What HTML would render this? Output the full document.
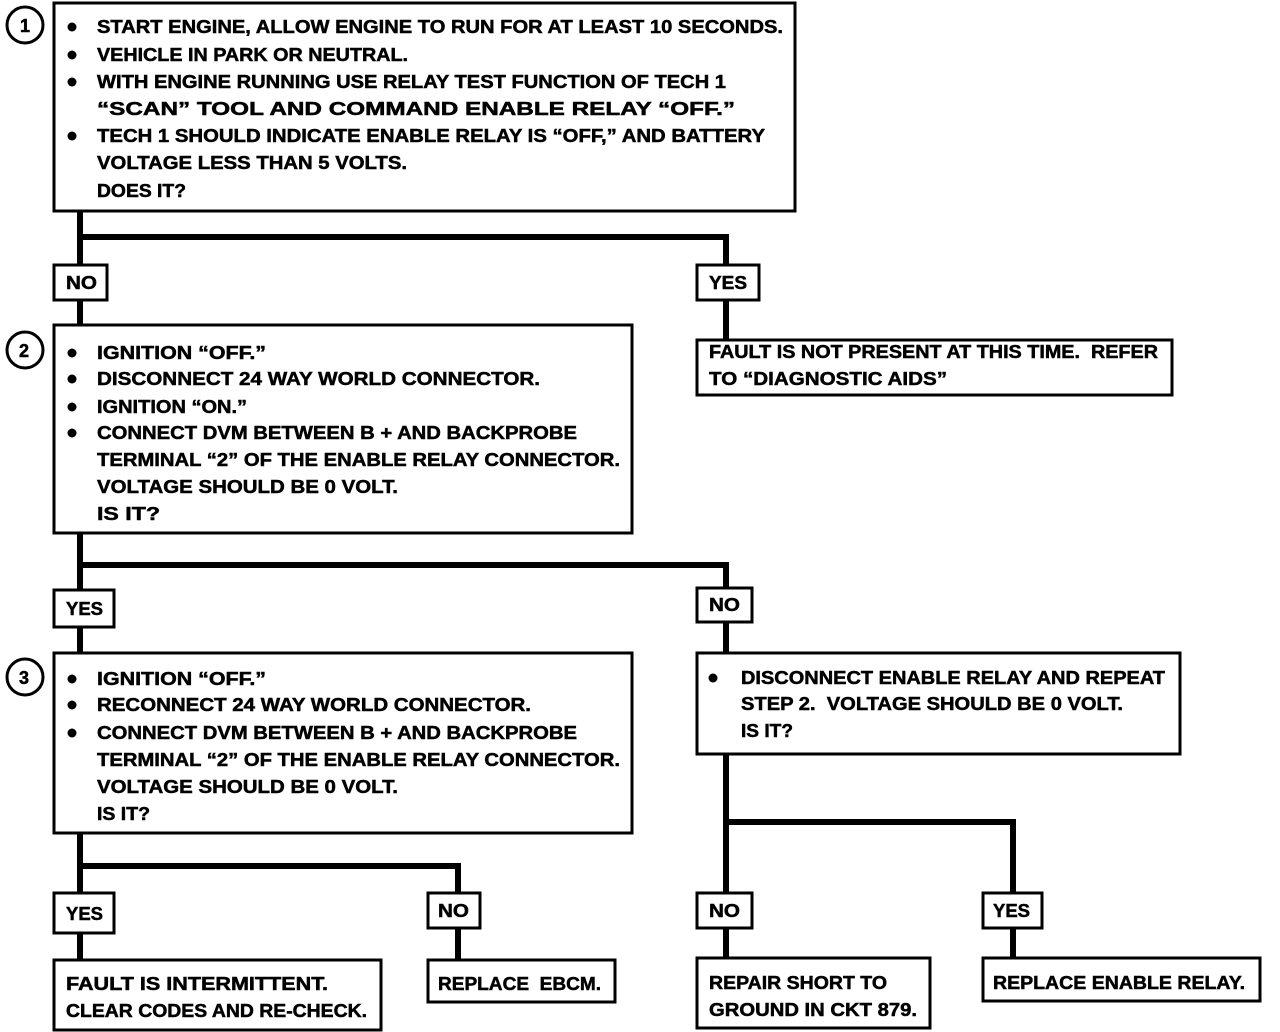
<!DOCTYPE html>
<html><head><meta charset="utf-8"><style>
html,body{margin:0;padding:0;background:#fff;width:1280px;height:1032px;overflow:hidden}
svg text{font-family:"Liberation Sans",sans-serif;font-weight:bold;font-size:18px;fill:#000;stroke:#000;stroke-width:0.5;white-space:pre}
</style></head><body>
<svg width="1280" height="1032" xmlns="http://www.w3.org/2000/svg">
<g fill="none" stroke="#000">
<g stroke-width="6">
<path d="M80 211V325M80 237H726V340"/>
<path d="M80 533V653M80 565H726V653"/>
<path d="M80 833V960M80 866H458V960"/>
<path d="M726 754V958M726 822H1013V958"/>
</g>
<g stroke-width="3" fill="#fff">
<rect x="54" y="3" width="741" height="208"/>
<rect x="54" y="325" width="578" height="208"/>
<rect x="54" y="653" width="578" height="180"/>
<rect x="697" y="340" width="475" height="55"/>
<rect x="697" y="653" width="483" height="101"/>
<rect x="54" y="960" width="327" height="70"/>
<rect x="428" y="960" width="187" height="42"/>
<rect x="697" y="958" width="233" height="70"/>
<rect x="983" y="958" width="277" height="43"/>
<rect x="54" y="265" width="53" height="35"/>
<rect x="697" y="265" width="62" height="35"/>
<rect x="54" y="590" width="60" height="37"/>
<rect x="697" y="588" width="55" height="34"/>
<rect x="54" y="893" width="60" height="40"/>
<rect x="428" y="893" width="52" height="35"/>
<rect x="697" y="893" width="55" height="35"/>
<rect x="983" y="893" width="59" height="35"/>
<circle cx="25" cy="25" r="18"/>
<circle cx="25" cy="350" r="18"/>
<circle cx="25" cy="677" r="18"/>
</g>
</g>
<g fill="#000">
<circle cx="72" cy="27" r="4.5"/><circle cx="72" cy="55" r="4.5"/><circle cx="72" cy="82" r="4.5"/><circle cx="72" cy="136" r="4.5"/>
<circle cx="72" cy="353" r="4.5"/><circle cx="72" cy="379" r="4.5"/><circle cx="72" cy="407" r="4.5"/><circle cx="72" cy="433" r="4.5"/>
<circle cx="72" cy="679" r="4.5"/><circle cx="72" cy="705" r="4.5"/><circle cx="72" cy="733" r="4.5"/>
<circle cx="713" cy="678" r="4.5"/>
</g>
<text x="20" y="32">1</text><text x="19" y="357">2</text><text x="19" y="684">3</text>
<text x="97" y="33" textLength="686" lengthAdjust="spacingAndGlyphs">START ENGINE, ALLOW ENGINE TO RUN FOR AT LEAST 10 SECONDS.</text>
<text x="97" y="61" textLength="311" lengthAdjust="spacingAndGlyphs">VEHICLE IN PARK OR NEUTRAL.</text>
<text x="97" y="88" textLength="629" lengthAdjust="spacingAndGlyphs">WITH ENGINE RUNNING USE RELAY TEST FUNCTION OF TECH 1</text>
<text x="97" y="115" textLength="638" lengthAdjust="spacingAndGlyphs">“SCAN” TOOL AND COMMAND ENABLE RELAY “OFF.”</text>
<text x="97" y="142" textLength="668" lengthAdjust="spacingAndGlyphs">TECH 1 SHOULD INDICATE ENABLE RELAY IS “OFF,” AND BATTERY</text>
<text x="97" y="169" textLength="310" lengthAdjust="spacingAndGlyphs">VOLTAGE LESS THAN 5 VOLTS.</text>
<text x="97" y="197" textLength="89" lengthAdjust="spacingAndGlyphs">DOES IT?</text>

<text x="97" y="359" textLength="169" lengthAdjust="spacingAndGlyphs">IGNITION “OFF.”</text>
<text x="97" y="385" textLength="443" lengthAdjust="spacingAndGlyphs">DISCONNECT 24 WAY WORLD CONNECTOR.</text>
<text x="97" y="413" textLength="150" lengthAdjust="spacingAndGlyphs">IGNITION “ON.”</text>
<text x="97" y="439" textLength="480" lengthAdjust="spacingAndGlyphs">CONNECT DVM BETWEEN B + AND BACKPROBE</text>
<text x="97" y="466" textLength="523" lengthAdjust="spacingAndGlyphs">TERMINAL “2” OF THE ENABLE RELAY CONNECTOR.</text>
<text x="97" y="493" textLength="301" lengthAdjust="spacingAndGlyphs">VOLTAGE SHOULD BE 0 VOLT.</text>
<text x="97" y="520" textLength="63" lengthAdjust="spacingAndGlyphs">IS IT?</text>

<text x="97" y="685" textLength="169" lengthAdjust="spacingAndGlyphs">IGNITION “OFF.”</text>
<text x="97" y="711" textLength="434" lengthAdjust="spacingAndGlyphs">RECONNECT 24 WAY WORLD CONNECTOR.</text>
<text x="97" y="739" textLength="480" lengthAdjust="spacingAndGlyphs">CONNECT DVM BETWEEN B + AND BACKPROBE</text>
<text x="97" y="766" textLength="523" lengthAdjust="spacingAndGlyphs">TERMINAL “2” OF THE ENABLE RELAY CONNECTOR.</text>
<text x="97" y="793" textLength="301" lengthAdjust="spacingAndGlyphs">VOLTAGE SHOULD BE 0 VOLT.</text>
<text x="97" y="820" textLength="53" lengthAdjust="spacingAndGlyphs">IS IT?</text>

<text x="709" y="358" textLength="449" lengthAdjust="spacingAndGlyphs">FAULT IS NOT PRESENT AT THIS TIME.&#160; REFER</text>
<text x="709" y="385" textLength="238" lengthAdjust="spacingAndGlyphs">TO “DIAGNOSTIC AIDS”</text>

<text x="741" y="684" textLength="424" lengthAdjust="spacingAndGlyphs">DISCONNECT ENABLE RELAY AND REPEAT</text>
<text x="741" y="710" textLength="382" lengthAdjust="spacingAndGlyphs">STEP 2.&#160; VOLTAGE SHOULD BE 0 VOLT.</text>
<text x="741" y="737" textLength="52" lengthAdjust="spacingAndGlyphs">IS IT?</text>

<text x="66" y="990" textLength="262" lengthAdjust="spacingAndGlyphs">FAULT IS INTERMITTENT.</text>
<text x="66" y="1017" textLength="301" lengthAdjust="spacingAndGlyphs">CLEAR CODES AND RE-CHECK.</text>
<text x="438" y="990" textLength="163" lengthAdjust="spacingAndGlyphs">REPLACE&#160; EBCM.</text>
<text x="709" y="989" textLength="178" lengthAdjust="spacingAndGlyphs">REPAIR SHORT TO</text>
<text x="709" y="1016" textLength="208" lengthAdjust="spacingAndGlyphs">GROUND IN CKT 879.</text>
<text x="993" y="989" textLength="252" lengthAdjust="spacingAndGlyphs">REPLACE ENABLE RELAY.</text>

<text x="66" y="289" textLength="31" lengthAdjust="spacingAndGlyphs">NO</text>
<text x="709" y="289" textLength="38" lengthAdjust="spacingAndGlyphs">YES</text>
<text x="66" y="615" textLength="37" lengthAdjust="spacingAndGlyphs">YES</text>
<text x="709" y="611" textLength="31" lengthAdjust="spacingAndGlyphs">NO</text>
<text x="66" y="920" textLength="37" lengthAdjust="spacingAndGlyphs">YES</text>
<text x="438" y="917" textLength="31" lengthAdjust="spacingAndGlyphs">NO</text>
<text x="709" y="917" textLength="31" lengthAdjust="spacingAndGlyphs">NO</text>
<text x="993" y="917" textLength="37" lengthAdjust="spacingAndGlyphs">YES</text>
</svg>
</body></html>
